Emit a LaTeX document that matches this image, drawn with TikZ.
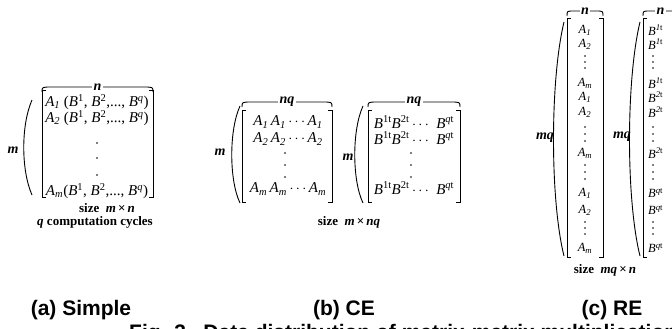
\documentclass[tikz,border=0pt]{standalone}
\usepackage{fontspec}
\setmainfont{Liberation Serif}
\setsansfont{Liberation Sans}

\tikzstyle{entry} = [inner sep=0pt, font=\fontsize{15}{15}\selectfont]
\tikzstyle{centry} = [inner sep=0pt, font=\fontsize{12.5}{12.5}\selectfont]
\tikzstyle{dim} = [inner sep=1.5pt, font=\fontsize{14}{14}\selectfont\bfseries\itshape]
\tikzstyle{note} = [inner sep=0pt, font=\fontsize{13}{13}\selectfont\bfseries]
\tikzstyle{sub} = [inner sep=0pt, font=\fontsize{21}{21}\selectfont\sffamily\bfseries]
\tikzstyle{delim} = [line width=0.9pt]

\newcommand{\Ai}[1]{\textit{A}\textsubscript{\textit{#1}}}
\newcommand{\Bs}[1]{\textit{B}\textsuperscript{#1}}

\begin{document}
\begin{tikzpicture}[x=1pt, y=-1pt]
\useasboundingbox (0,0) rectangle (672,329);
\clip (0,0) rectangle (672,329);

% (a) simple
\draw[delim] (32,100) .. controls (21,125) and (21,170) .. (32,195);
\node[dim] (am) at (13,150) {m};
\draw[delim] (46,90) -- (42,90) -- (42,197) -- (46,197);
\draw[delim] (149,90) -- (153,90) -- (153,197) -- (149,197);
\draw[delim] (42,92) .. controls (42,87) .. (52,87) -- node[dim, fill=white] (an) {n} (143,87) .. controls (153,87) .. (153,92);
\node[entry] (a1) at (97,102) {\Ai{1} (\Bs{1}, \Bs{2},..., \Bs{\textit{q}})};
\node[entry] (a2) at (97,118) {\Ai{2} (\Bs{1}, \Bs{2},..., \Bs{\textit{q}})};
\fill (97,143) circle (0.9) (97,158) circle (0.9) (97,175) circle (0.9);
\node[entry] (am1) at (97,191) {\Ai{m}(\Bs{1}, \Bs{2},..., \Bs{\textit{q}})};
\node[note] (asize) at (107,208) {size\ \ \textit{m}\,×\,\textit{n}};
\node[note] (acyc) at (95,222) {\textit{q} computation cycles};

% (b) CE
\draw[delim] (240,106) .. controls (229,130) and (229,180) .. (240,203);
\node[dim] (bm) at (220,152) {m};
\draw[delim] (246,110) -- (242,110) -- (242,202) -- (246,202);
\draw[delim] (328,110) -- (332,110) -- (332,202) -- (328,202);
\draw[delim] (242,107) .. controls (242,102) .. (252,102) -- node[dim, fill=white] (bnq) {nq} (322,102) .. controls (332,102) .. (332,107);
\node[entry] (ba1) at (288,122) {\Ai{1}\,\Ai{1}\,$\cdots$\,\Ai{1}};
\node[entry] (ba2) at (288,139) {\Ai{2}\,\Ai{2}\,$\cdots$\,\Ai{2}};
\fill (285,153) circle (0.8) (285,165) circle (0.8) (285,177) circle (0.8);
\node[entry] (bam) at (288,189) {\Ai{m}\,\Ai{m}\,$\cdots$\,\Ai{m}};

\draw[delim] (363,106) .. controls (352,130) and (352,180) .. (363,203);
\node[dim] (bm2) at (348,157) {m};
\draw[delim] (372,110) -- (368,110) -- (368,202) -- (372,202);
\draw[delim] (456,110) -- (460,110) -- (460,202) -- (456,202);
\draw[delim] (368,107) .. controls (368,102) .. (378,102) -- node[dim, fill=white] (bnq2) {nq} (450,102) .. controls (460,102) .. (460,107);
\node[entry] (bb1) at (414,122) {\Bs{1t}\Bs{2t}\,$\cdots$\ \ \Bs{\textit{q}t}};
\node[entry] (bb2) at (414,138) {\Bs{1t}\Bs{2t}\,$\cdots$\ \ \Bs{\textit{q}t}};
\fill (411,153) circle (0.8) (411,165) circle (0.8) (411,177) circle (0.8);
\node[entry] (bbm) at (414,188) {\Bs{1t}\Bs{2t}\,$\cdots$\ \ \Bs{\textit{q}t}};
\node[note] (bsize) at (349,222) {size\ \ \textit{m}\,×\,\textit{nq}};

% (c) RE
\draw[delim] (564,22) .. controls (550,80) and (550,200) .. (564,256);
\node[dim] (cmq) at (545,138) {mq};
\draw[delim] (571,18) -- (567,18) -- (567,257) -- (571,257);
\draw[delim] (599,18) -- (603,18) -- (603,257) -- (599,257);
\draw[delim] (567,16) .. controls (567,11) .. (574,11) -- node[dim, fill=white] (cn) {n} (596,11) .. controls (603,11) .. (603,16);

\draw[delim] (640,22) .. controls (626,80) and (626,200) .. (640,256);
\node[dim] (cmq2) at (622,137) {mq};
\draw[delim] (647,18) -- (643,18) -- (643,257) -- (647,257);
\draw[delim] (643,16) .. controls (643,11) .. (650,11) -- node[dim, fill=white] (cn2) {n} (671,11) .. controls (678,11) .. (678,16);

\foreach \y/\a/\b [count=\i] in {30/1/1, 44/2/1, 83/m/1, 97/1/2, 112/2/2, 153/m/2, 193/1/q, 210/2/q, 248/m/q} {
  \node[centry] (ca\i) at (585,\y) {\Ai{\a}};
  \node[centry, anchor=west] (cb\i) at (648,\y) {\Bs{\textit{\b}t}};
}
\foreach \y in {56,62,68, 127,134,141, 165,172,179, 222,228,234} {
  \fill (585,\y) circle (0.8) (653,\y) circle (0.8);
}
\node[note] (csize) at (605,270) {size\ \ \textit{mq}\,×\,\textit{n}};

% captions
\node[sub] (capa) at (81,310) {(a) Simple};
\node[sub] (capb) at (344,310) {(b) CE};
\node[sub] (capc) at (612,310) {(c) RE};
\node[sub, anchor=base west] (fig) at (129,339) {Fig. 3.\ \ Data distribution of matrix-matrix multiplication};
\end{tikzpicture}
\end{document}
